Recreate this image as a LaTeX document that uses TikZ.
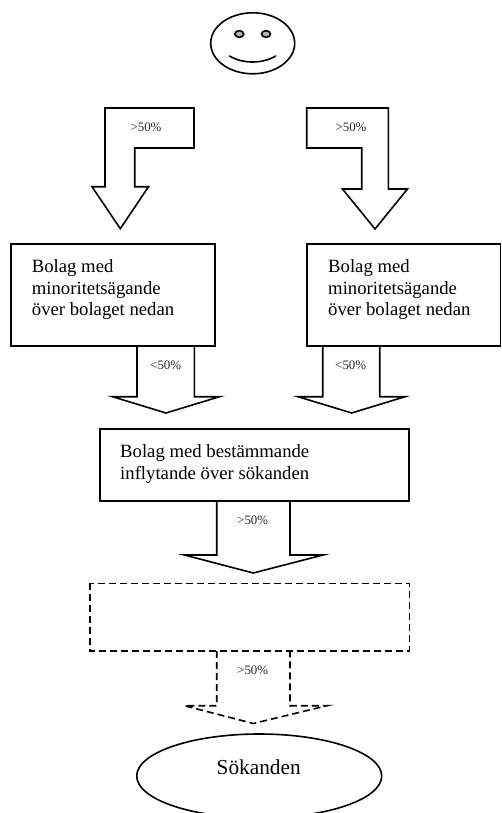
\documentclass[tikz,border=0pt]{standalone}
\usepackage{fontspec}
\setmainfont{Liberation Serif}
\tikzset{
  shape line/.style={draw=black,line width=1.6pt,line join=miter},
  dash line/.style={shape line,dash pattern=on 7pt off 4pt},
  boxtext/.style={inner sep=0pt,anchor=base west,align=left,font=\fontsize{18.7}{21.7}\selectfont},
  pct/.style={inner sep=0pt,font=\fontsize{12.9}{14}\selectfont,text=black!85},
}
\begin{document}
\begin{tikzpicture}[x=1pt,y=-1pt]
\useasboundingbox (0,0) rectangle (501,813);
% face
\draw[shape line] (252.7,43.3) ellipse [x radius=42,y radius=30.5];
\draw[shape line,fill=black!30] (239.3,34) ellipse [x radius=4.5,y radius=3.3];
\draw[shape line,fill=black!30] (266,34) ellipse [x radius=4.5,y radius=3.3];
\draw[shape line,line cap=round] (229.5,56) .. controls (243,64) and (262,64) .. (275.8,56);
% top block arrows
\draw[shape line] (105,108) -- (194,108) -- (194,148) -- (134.7,148) -- (134.7,186.7) -- (148.5,186.7) -- (120.3,228.7) -- (92,186.7) -- (105,186.7) -- cycle;
\draw[shape line] (306.7,108) -- (388.3,108) -- (388.3,189) -- (407.5,189) -- (375,229) -- (342.5,189) -- (361.7,189) -- (361.7,148) -- (306.7,148) -- cycle;
\node[pct] (p1) at (146,127) {>50\%};
\node[pct] (p2) at (351,127) {>50\%};
% owner boxes
\draw[shape line] (11,244) rectangle (215,346);
\draw[shape line] (306.7,244) rectangle (500.4,346);
\node[boxtext] (t1) at (31.7,315.7) {Bolag med\\minoritetsägande\\över bolaget nedan};
\node[boxtext] (t2) at (328,315.7) {Bolag med\\minoritetsägande\\över bolaget nedan};
% block arrows under the owner boxes
\draw[shape line] (137,346) -- (137,396.7) -- (112.5,396.7) -- (166,413) -- (219.5,396.7) -- (194.3,396.7) -- (194.3,346);
\draw[shape line] (322.7,346) -- (322.7,396.7) -- (298,396.7) -- (351.7,413) -- (405,396.7) -- (379.7,396.7) -- (379.7,346);
\node[pct] (p3) at (165.7,365) {<50\%};
\node[pct] (p4) at (350.7,365) {<50\%};
% middle box
\draw[shape line] (100,429) rectangle (409,501);
\node[boxtext] (t3) at (120,479.2) {Bolag med bestämmande\\inflytande över sökanden};
\draw[shape line] (216.7,501) -- (216.7,555) -- (184.5,555) -- (253.3,573) -- (323,555) -- (290,555) -- (290,501);
\node[pct] (p5) at (252.7,520) {>50\%};
% dashed box and arrow
\draw[dash line] (90,583.3) rectangle (409.3,651);
\draw[dash line] (216.7,651) -- (216.7,705.7) -- (184.5,705.7) -- (253.3,723.5) -- (327,705.7) -- (290,705.7) -- (290,651);
\node[pct] (p6) at (252.7,670) {>50\%};
% applicant
\draw[shape line] (259.2,776) ellipse [x radius=122.5,y radius=42];
\node[inner sep=0pt,anchor=base,font=\fontsize{21.3}{24}\selectfont] (t4) at (258.7,774) {Sökanden};
\end{tikzpicture}
\end{document}
